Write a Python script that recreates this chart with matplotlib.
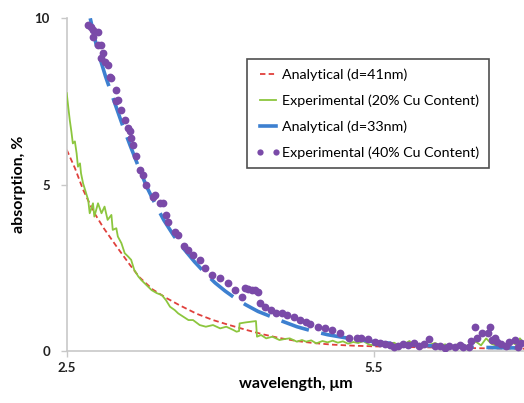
import matplotlib
matplotlib.use("Agg")
import matplotlib.pyplot as plt
from matplotlib.lines import Line2D

plt.rcParams["font.family"] = ["Lato", "DejaVu Sans"]

# Analytical (d=41nm) - red dashed
red_x = [2.50, 2.58, 2.66, 2.76, 2.86, 2.99, 3.12, 3.21, 3.34, 3.47, 3.60, 3.77,
         3.93, 4.09, 4.26, 4.42, 4.58, 4.75, 4.91, 5.10, 5.30, 5.50, 5.80, 6.20,
         6.60, 6.97]
red_y = [6.05, 5.50, 4.85, 4.20, 3.70, 3.13, 2.58, 2.22, 1.85, 1.60, 1.38, 1.12,
         0.93, 0.78, 0.63, 0.50, 0.39, 0.30, 0.24, 0.19, 0.16, 0.14, 0.12, 0.10,
         0.08, 0.07]

# Experimental (20% Cu Content) - green
green_x = [2.50, 2.515, 2.53, 2.546, 2.56, 2.58, 2.597, 2.61, 2.63, 2.64, 2.66, 2.69,
           2.71, 2.725, 2.757, 2.77, 2.806, 2.84, 2.87, 2.90, 2.937, 2.95, 2.985, 3.00,
           3.035, 3.067, 3.10, 3.13, 3.16, 3.20, 3.23, 3.28, 3.33, 3.38, 3.43, 3.47,
           3.51, 3.556, 3.59, 3.64, 3.69, 3.735, 3.80, 3.86, 3.93, 4.00, 4.06, 4.13,
           4.16, 4.185, 4.19, 4.25, 4.30, 4.35, 4.36, 4.40, 4.45, 4.51, 4.58, 4.63,
           4.68, 4.75, 4.80, 4.84, 4.89, 4.94, 5.00, 5.05, 5.10, 5.15, 5.20, 5.25,
           5.30, 5.35, 5.40, 5.45, 5.50, 5.55, 5.60, 5.65, 5.70, 5.75, 5.80, 5.85,
           5.90, 5.95, 6.00, 6.05, 6.10, 6.15, 6.20, 6.25, 6.30, 6.35, 6.40, 6.45,
           6.50, 6.55, 6.60, 6.65, 6.70, 6.75, 6.80, 6.85, 6.90, 6.93, 6.97]
green_y = [7.75, 7.34, 6.94, 6.59, 6.24, 6.30, 5.94, 5.54, 5.64, 5.34, 5.04, 4.74,
           4.54, 4.14, 4.44, 4.04, 4.44, 4.14, 4.34, 3.94, 4.09, 3.64, 3.69, 3.44,
           3.24, 2.94, 2.84, 2.74, 2.44, 2.24, 2.13, 1.98, 1.83, 1.74, 1.68, 1.53,
           1.33, 1.23, 1.13, 1.03, 0.93, 0.93, 0.78, 0.73, 0.78, 0.68, 0.73, 0.63,
           0.58, 0.60, 0.83, 0.86, 0.88, 0.90, 0.43, 0.48, 0.38, 0.43, 0.33, 0.36,
           0.38, 0.28, 0.33, 0.28, 0.32, 0.23, 0.30, 0.26, 0.31, 0.25, 0.29, 0.22,
           0.27, 0.24, 0.30, 0.20, 0.17, 0.22, 0.15, 0.20, 0.25, 0.16, 0.21, 0.30,
           0.18, 0.22, 0.14, 0.19, 0.24, 0.16, 0.20, 0.13, 0.18, 0.22, 0.15, 0.20,
           0.28, 0.17, 0.38, 0.22, 0.16, 0.20, 0.14, 0.25, 0.19, 0.38, 0.22]

# Analytical (d=33nm) - blue long dash
blue_x = [2.73, 2.80, 2.88, 2.97, 3.05, 3.12, 3.20, 3.28, 3.36, 3.45, 3.55, 3.65,
          3.75, 3.85, 3.95, 4.05, 4.15, 4.25, 4.37, 4.50, 4.62, 4.75, 4.90, 5.05,
          5.20, 5.40, 5.60, 5.85, 6.10, 6.40, 6.70, 6.97]
blue_y = [10.0, 9.05, 8.25, 7.45, 6.75, 6.18, 5.55, 4.95, 4.45, 3.93, 3.45, 3.05,
          2.68, 2.35, 2.05, 1.80, 1.58, 1.39, 1.19, 1.03, 0.88, 0.73, 0.60, 0.49,
          0.41, 0.32, 0.25, 0.19, 0.15, 0.12, 0.10, 0.09]

# Experimental (40% Cu Content) - purple dots
purple_x = [2.708, 2.74, 2.757, 2.757, 2.806, 2.806, 2.84, 2.84, 2.855, 2.87, 2.90,
            2.92, 2.937, 2.985, 2.986, 3.00, 3.035, 3.067, 3.10, 3.115, 3.13, 3.15,
            3.18, 3.216, 3.246, 3.28, 3.34, 3.36, 3.41, 3.44, 3.47, 3.49, 3.556,
            3.59, 3.65, 3.686, 3.735, 3.80, 3.85, 3.917, 4.00, 4.08, 4.146, 4.21,
            4.24, 4.275, 4.31, 4.34, 4.37, 4.387, 4.435, 4.50, 4.55, 4.60, 4.65,
            4.72, 4.78, 4.84, 4.88, 4.96, 5.02, 5.09, 5.17, 5.26, 5.34, 5.38, 5.45,
            5.51, 5.56, 5.61, 5.66, 5.70, 5.74, 5.79, 5.84, 5.89, 5.94, 5.99, 6.04,
            6.10, 6.15, 6.20, 6.24, 6.30, 6.34, 6.37, 6.43, 6.45, 6.49, 6.51, 6.56,
            6.62, 6.64, 6.66, 6.69, 6.71, 6.75, 6.79, 6.82, 6.88, 6.91, 6.94]
purple_y = [9.80, 9.75, 9.65, 9.45, 9.60, 9.20, 9.20, 8.80, 8.95, 8.70, 8.60,
            8.25, 8.20, 7.50, 7.85, 7.55, 7.25, 6.95, 6.70, 6.60, 6.40, 6.20,
            5.85, 5.45, 5.30, 4.99, 4.63, 4.69, 4.45, 4.44, 4.09, 3.89, 3.59,
            3.49, 3.15, 3.04, 2.89, 2.74, 2.49, 2.28, 2.18, 2.03, 1.83, 1.63,
            1.88, 1.85, 1.83, 1.83, 1.78, 1.43, 1.33, 1.23, 1.13, 1.13, 1.09,
            1.03, 0.93, 0.88, 0.81, 0.71, 0.68, 0.63, 0.53, 0.40, 0.40, 0.38, 0.35,
            0.28, 0.24, 0.22, 0.18, 0.12, 0.15, 0.22, 0.18, 0.24, 0.15, 0.22, 0.35,
            0.15, 0.15, 0.10, 0.15, 0.13, 0.18, 0.13, 0.13, 0.30, 0.71, 0.40, 0.53,
            0.53, 0.73, 0.33, 0.40, 0.28, 0.22, 0.15, 0.28, 0.33, 0.12, 0.24]

labels = ["Analytical (d=41nm)", "Experimental (20% Cu Content)",
          "Analytical (d=33nm)", "Experimental (40% Cu Content)"]

RED = "#e0403c"
GREEN = "#8cc63e"
BLUE = "#3d80d0"
PURPLE = "#7a4aa8"
AXIS_GRAY = "#c8c8c8"

fig = plt.figure(figsize=(5.24, 4.03), dpi=100, facecolor="white")
ax = fig.add_axes([66.7 / 524, 52 / 403, 457.3 / 524, 332.7 / 403])

ax.plot(red_x, red_y, color=RED, linewidth=1.3, linestyle=(0, (3, 1.8)), zorder=2)
ax.plot(green_x, green_y, color=GREEN, linewidth=1.3, zorder=3)
ax.plot(blue_x, blue_y, color=BLUE, linewidth=2.6, linestyle=(0, (8, 3.5)),
        solid_capstyle="butt", zorder=4)
ax.plot(purple_x, purple_y, linestyle="none", marker="o", markersize=5.6,
        color=PURPLE, markeredgewidth=0, zorder=5)

ax.set_xlim(2.5, 6.97)
ax.set_ylim(0, 10)
ax.set_xticks([2.5, 5.5])
ax.set_xticklabels(["2.5", "5.5"])
ax.set_yticks([0, 5, 10])
ax.set_yticklabels(["0", "5", "10"])

for side in ("top", "right"):
    ax.spines[side].set_visible(False)
for side in ("left", "bottom"):
    ax.spines[side].set_color(AXIS_GRAY)
    ax.spines[side].set_linewidth(1.2)
ax.tick_params(axis="both", colors=AXIS_GRAY, length=4, width=1.0,
               labelcolor="#222222", labelsize=9.5)
for lbl in ax.get_xticklabels() + ax.get_yticklabels():
    lbl.set_fontweight("bold")
ax.tick_params(axis="x", pad=4)
ax.tick_params(axis="y", pad=8)

ax.set_xlabel("wavelength, \u03bcm", fontsize=11.5, fontweight="bold", labelpad=2)
ax.set_ylabel("absorption, %", fontsize=11.5, fontweight="bold", labelpad=6)

handles = [
    Line2D([], [], color=RED, linewidth=1.3, linestyle=(0, (3, 1.8))),
    Line2D([], [], color=GREEN, linewidth=1.3),
    Line2D([], [], color=BLUE, linewidth=2.6),
    Line2D([], [], color=PURPLE, linestyle="none", marker="o", markersize=4.5,
           markeredgewidth=0),
]
leg = fig.legend(handles, labels, loc="upper left",
                 bbox_to_anchor=(247 / 524, 1 - 59 / 403), fontsize=10.3,
                 frameon=True, fancybox=False, edgecolor="#222222",
                 handlelength=1.7, handletextpad=0.15, labelspacing=0.95,
                 borderpad=0.63, borderaxespad=0, numpoints=2)
leg.get_frame().set_linewidth(1.2)

fig.savefig("out.png", dpi=100, facecolor="white")
